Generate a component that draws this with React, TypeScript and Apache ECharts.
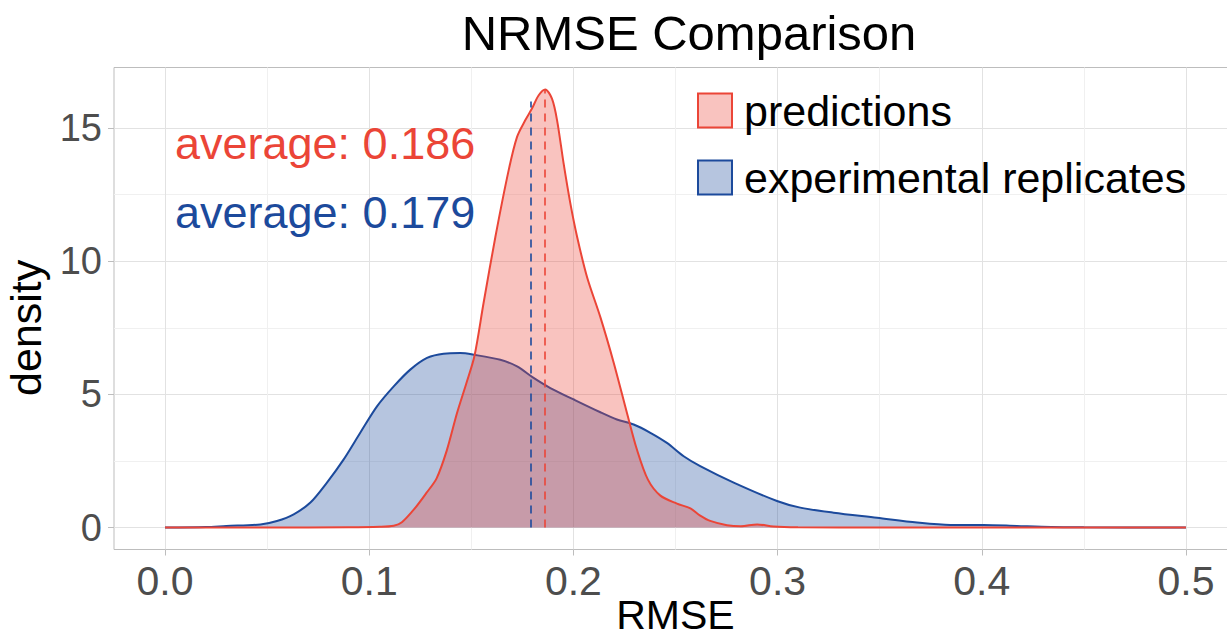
import { useEffect, useRef } from "react";
import * as echarts from "echarts";

// ---- text ----
const TITLE = "NRMSE Comparison";
const X_NAME = "RMSE";
const Y_NAME = "density";
const SERIES_NAMES = ["predictions", "experimental replicates"];

// ---- summary values (mean NRMSE per group) and the height of each mean marker ----
const MEANS = [0.186, 0.179];
const MEAN_MARK_TOPS = [16.45, 16.0];

// ---- kernel density estimate: predictions ----
const predX = [
  0, 0.05, 0.09, 0.105, 0.112, 0.116, 0.122, 0.128, 0.133, 0.138, 0.143, 0.1475,
  0.1515, 0.156, 0.1618, 0.1683, 0.1724, 0.1764, 0.1797, 0.183, 0.1862, 0.1895,
  0.192, 0.1952, 0.1985, 0.2018, 0.2067, 0.2132, 0.2197, 0.2262, 0.2311, 0.2365,
  0.2426, 0.2507, 0.2573, 0.2621, 0.267, 0.2752, 0.282, 0.29, 0.298, 0.31, 0.35, 0.5,
];
const predDensity = [
  0, 0, 0.01, 0.03, 0.07, 0.2, 0.69, 1.3, 1.85, 2.9, 4.3, 5.4,
  6.43, 8.43, 10.92, 13.42, 14.67, 15.29, 15.73, 16.23, 16.45, 16.1,
  15.29, 13.67, 12.17, 10.92, 9.4, 7.9, 6.2, 4.31, 2.93, 1.8,
  1.2, 0.9, 0.72, 0.45, 0.25, 0.09, 0.05, 0.12, 0.04, 0.01, 0, 0,
];

// ---- kernel density estimate: experimental replicates ----
const replX = [
  0, 0.02, 0.03, 0.0467, 0.0548, 0.063, 0.0712, 0.0793, 0.0875, 0.0956, 0.1038,
  0.112, 0.1201, 0.1283, 0.1364, 0.1446, 0.1511, 0.1642, 0.1724, 0.1805, 0.1887,
  0.2001, 0.2132, 0.2213, 0.2295, 0.2377, 0.2458, 0.254, 0.2621, 0.2785, 0.2997,
  0.3111, 0.3274, 0.3487, 0.3683, 0.3846, 0.4009, 0.4172, 0.434, 0.45, 0.5,
];
const replDensity = [
  0, 0.02, 0.06, 0.12, 0.25, 0.5, 0.94, 1.69, 2.56, 3.56, 4.55,
  5.3, 5.93, 6.37, 6.53, 6.55, 6.49, 6.3, 6.05, 5.62, 5.24,
  4.81, 4.33, 4.06, 3.87, 3.56, 3.18, 2.68, 2.31, 1.69, 1.0,
  0.75, 0.56, 0.37, 0.19, 0.1, 0.1, 0.06, 0.02, 0.01, 0,
];

// ---- axis extents (data range plus 5% padding) and tick ranges ----
const X_EXTENT = [-0.025, 0.525];
const Y_EXTENT = [-0.8225, 17.2725];
const X_TICK_RANGE = [0, 0.5];
const Y_TICK_RANGE = [0, 15];
const X_TICK_STEP = 0.1;
const Y_TICK_STEP = 5;

const RED = "#EB4537";
const BLUE = "#1C4A9C";
const FILL_OPACITY = 0.32;
const FONT = "'Liberation Sans', Arial, Helvetica, sans-serif";

const W = 1227;
const H = 643;
const PANEL = { left: 114, top: 67.5, right: 1237, bottom: 549.5 };

const px = (x: number) =>
  PANEL.left + ((x - X_EXTENT[0]) / (X_EXTENT[1] - X_EXTENT[0])) * (PANEL.right - PANEL.left);
const py = (y: number) =>
  PANEL.bottom - ((y - Y_EXTENT[0]) / (Y_EXTENT[1] - Y_EXTENT[0])) * (PANEL.bottom - PANEL.top);

const rgba = (hex: string, a: number) => {
  const n = parseInt(hex.slice(1), 16);
  return `rgba(${(n >> 16) & 255},${(n >> 8) & 255},${n & 255},${a})`;
};

const GRID_MAJOR = "#E2E2E2";
const GRID_MINOR = "#F0F0F0";
const BORDER = "#BDBDBD";

export default function App() {
  const ref = useRef<HTMLDivElement>(null);

  useEffect(() => {
    if (!ref.current) return;
    const chart = echarts.init(ref.current, undefined, { renderer: "svg" });

    const panelW = PANEL.right - PANEL.left;
    const panelH = PANEL.bottom - PANEL.top;

    const option: any = {
      animation: false,
      backgroundColor: "#ffffff",
      textStyle: { fontFamily: FONT },
      title: [
        {
          text: TITLE,
          left: 689,
          top: 7,
          padding: 0,
          textAlign: "center",
          textStyle: { fontSize: 49, color: "#000", fontWeight: "normal", fontFamily: FONT, lineHeight: 52 },
        },
        ...MEANS.map((m, i) => ({
          text: `average: ${m.toFixed(3)}`,
          left: 175,
          top: i === 0 ? 119 : 188,
          padding: 0,
          textStyle: {
            fontSize: 45,
            color: i === 0 ? RED : BLUE,
            fontWeight: "normal",
            fontFamily: FONT,
            lineHeight: 48,
          },
        })),
      ],
      grid: [
        // data panel
        {
          left: PANEL.left,
          top: PANEL.top,
          width: panelW,
          height: panelH,
          outerBoundsMode: "none",
          containLabel: false,
          show: true,
          borderColor: BORDER,
          borderWidth: 1,
          backgroundColor: "transparent",
        },
        // x ticks and vertical grid lines
        {
          left: px(X_TICK_RANGE[0]),
          top: PANEL.top,
          width: px(X_TICK_RANGE[1]) - px(X_TICK_RANGE[0]),
          height: panelH,
          outerBoundsMode: "none",
          containLabel: false,
        },
        // y ticks and horizontal grid lines
        {
          left: PANEL.left,
          top: py(Y_TICK_RANGE[1]),
          width: panelW,
          height: py(Y_TICK_RANGE[0]) - py(Y_TICK_RANGE[1]),
          outerBoundsMode: "none",
          containLabel: false,
        },
      ],
      xAxis: [
        { gridIndex: 0, type: "value", min: X_EXTENT[0], max: X_EXTENT[1], show: false },
        {
          gridIndex: 1,
          type: "value",
          min: X_TICK_RANGE[0],
          max: X_TICK_RANGE[1],
          interval: X_TICK_STEP,
          axisLine: { show: false },
          axisTick: { show: true, length: 6, lineStyle: { color: BORDER, width: 1 } },
          axisLabel: {
            fontSize: 41,
            color: "#4D4D4D",
            margin: 11,
            fontFamily: FONT,
            formatter: (v: number) => v.toFixed(1),
          },
          splitLine: { show: true, lineStyle: { color: GRID_MAJOR, width: 1 } },
          minorTick: { show: false, splitNumber: 2 },
          minorSplitLine: { show: true, lineStyle: { color: GRID_MINOR, width: 1 } },
          name: X_NAME,
          nameLocation: "middle",
          nameMoveOverlap: false,
          nameGap: 45,
          nameTextStyle: { fontSize: 41, color: "#000", fontFamily: FONT },
        },
        { gridIndex: 2, type: "value", min: 0, max: 1, show: false },
      ],
      yAxis: [
        { gridIndex: 0, type: "value", min: Y_EXTENT[0], max: Y_EXTENT[1], show: false },
        { gridIndex: 1, type: "value", min: 0, max: 1, show: false },
        {
          gridIndex: 2,
          type: "value",
          min: Y_TICK_RANGE[0],
          max: Y_TICK_RANGE[1],
          interval: Y_TICK_STEP,
          axisLine: { show: false },
          axisTick: { show: true, length: 6, lineStyle: { color: BORDER, width: 1 } },
          axisLabel: { fontSize: 38, color: "#4D4D4D", margin: 12, fontFamily: FONT },
          splitLine: { show: true, lineStyle: { color: GRID_MAJOR, width: 1 } },
          minorTick: { show: false, splitNumber: 2 },
          minorSplitLine: { show: true, lineStyle: { color: GRID_MINOR, width: 1 } },
          name: Y_NAME,
          nameLocation: "middle",
          nameMoveOverlap: false,
          nameGap: 67,
          nameRotate: 90,
          nameTextStyle: { fontSize: 43, color: "#000", fontFamily: FONT },
        },
      ],
      legend: {
        orient: "vertical",
        left: 697,
        top: 89,
        padding: 0,
        itemWidth: 34,
        itemHeight: 34,
        itemGap: 24,
        icon: "rect",
        textStyle: { fontSize: 43, color: "#000", lineHeight: 43, fontFamily: FONT, padding: [0, 0, 0, 7] },
        data: [
          {
            name: SERIES_NAMES[0],
            itemStyle: { color: rgba(RED, FILL_OPACITY), borderColor: RED, borderWidth: 2 },
          },
          {
            name: SERIES_NAMES[1],
            itemStyle: { color: rgba(BLUE, FILL_OPACITY), borderColor: BLUE, borderWidth: 2 },
          },
        ],
      },
      series: [
        {
          type: "line",
          name: SERIES_NAMES[1],
          xAxisIndex: 0,
          yAxisIndex: 0,
          data: replX.map((x, i) => [x, replDensity[i]]),
          symbol: "none",
          showSymbol: false,
          smooth: 0.3,
          z: 2,
          itemStyle: { color: BLUE },
          lineStyle: { color: BLUE, width: 2 },
          areaStyle: { color: BLUE, opacity: FILL_OPACITY },
        },
        {
          type: "line",
          name: SERIES_NAMES[0],
          xAxisIndex: 0,
          yAxisIndex: 0,
          data: predX.map((x, i) => [x, predDensity[i]]),
          symbol: "none",
          showSymbol: false,
          smooth: 0.3,
          z: 3,
          itemStyle: { color: RED },
          lineStyle: { color: RED, width: 2 },
          areaStyle: { color: RED, opacity: FILL_OPACITY },
          markLine: {
            silent: true,
            symbol: ["none", "none"],
            label: { show: false },
            data: MEANS.map((m, i) => [
              {
                coord: [m, 0],
                lineStyle: { color: i === 0 ? RED : BLUE, width: 2, type: [8, 6], opacity: 0.8 },
              },
              { coord: [m, MEAN_MARK_TOPS[i]] },
            ]),
          },
        },
      ],
    };

    chart.setOption(option);
    return () => chart.dispose();
  }, []);

  return (
    <div
      ref={ref}
      style={{ position: "absolute", left: 0, top: 0, width: W, height: H }}
    />
  );
}
